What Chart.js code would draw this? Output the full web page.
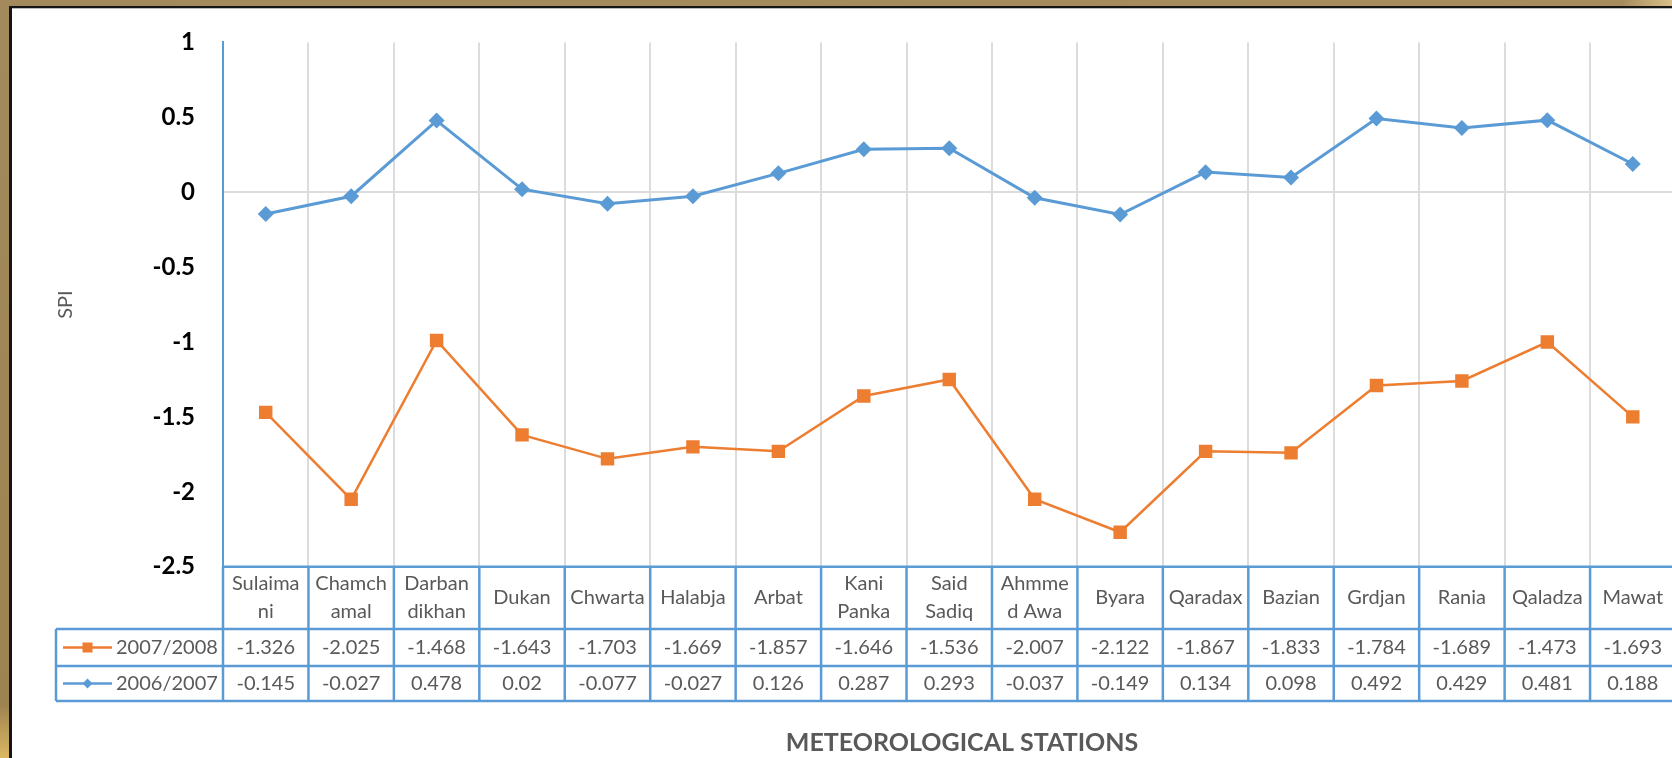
<!DOCTYPE html>
<html><head><meta charset="utf-8">
<script src="https://cdn.jsdelivr.net/npm/chart.js@4.4.1/dist/chart.umd.min.js"></script>
<style>
html,body{margin:0;padding:0;overflow:hidden;background:#fff;width:1672px;height:758px}
#wrap{position:absolute;left:0;top:0;width:1700px;height:758px}
.fr{position:absolute;z-index:2}
</style></head><body>
<div id="wrap"><canvas id="c" width="1700" height="758"></canvas></div>
<div class="fr" style="left:0;top:0;width:1672px;height:6px;background:linear-gradient(90deg,#a38a5c 0,#a68c5d 97%,#d9c08a 100%)"></div>
<div class="fr" style="left:0;top:6px;width:1672px;height:2px;background:#151515"></div>
<div class="fr" style="left:0;top:8px;width:1672px;height:1px;background:#bbb"></div>
<div class="fr" style="left:0;top:0;width:9px;height:758px;background:linear-gradient(180deg,#a38a5c 0,#9e8352 93%,#dcb862 100%)"></div>
<div class="fr" style="left:9px;top:6px;width:3px;height:752px;background:#151515"></div>
<script>
const categories = [["Sulaima","ni"],["Chamch","amal"],["Darban","dikhan"],["Dukan"],["Chwarta"],["Halabja"],["Arbat"],["Kani","Panka"],["Said","Sadiq"],["Ahmme","d Awa"],["Byara"],["Qaradax"],["Bazian"],["Grdjan"],["Rania"],["Qaladza"],["Mawat"]];
const seriesNames = ["2007/2008", "2006/2007"];
const plotted2007_2008 = [-1.47,-2.05,-0.99,-1.62,-1.78,-1.70,-1.73,-1.36,-1.25,-2.05,-2.27,-1.73,-1.74,-1.29,-1.26,-1.00,-1.50];
const plotted2006_2007 = [-0.145,-0.027,0.478,0.02,-0.077,-0.027,0.126,0.287,0.293,-0.037,-0.149,0.134,0.098,0.492,0.429,0.481,0.188];
const table2007_2008 = ["-1.326","-2.025","-1.468","-1.643","-1.703","-1.669","-1.857","-1.646","-1.536","-2.007","-2.122","-1.867","-1.833","-1.784","-1.689","-1.473","-1.693"];
const table2006_2007 = ["-0.145","-0.027","0.478","0.02","-0.077","-0.027","0.126","0.287","0.293","-0.037","-0.149","0.134","0.098","0.492","0.429","0.481","0.188"];
const yTicks = [1, 0.5, 0, -0.5, -1, -1.5, -2, -2.5];
const yTitle = "SPI";
const xTitle = "METEOROLOGICAL STATIONS";

const ORANGE = '#ed7d31', BLUE = '#5b9bd5', TXT = '#595959';

const tablePlugin = {
  id: 'dataTable',
  afterDraw(chart) {
    const ctx = chart.ctx, a = chart.chartArea, x = chart.scales.x;
    const n = categories.length;
    const w = a.width / n;
    const top = a.bottom, hBot = 629, r1 = 666, r2 = 701, legL = 56;
    ctx.save();
    ctx.strokeStyle = BLUE; ctx.lineWidth = 2.5;
    const ln = (x1, y1, x2, y2) => { ctx.beginPath(); ctx.moveTo(x1, y1); ctx.lineTo(x2, y2); ctx.stroke(); };
    ln(a.left, top, a.right, top);
    ln(legL, hBot, a.right, hBot);
    ln(legL, r1, a.right, r1);
    ln(legL, r2, a.right, r2);
    ln(legL, hBot, legL, r2);
    for (let i = 0; i <= n; i++) {
      const xb = (i < n ? x.getPixelForValue(i) - w / 2 : x.getPixelForValue(n - 1) + w / 2);
      ln(xb, top, xb, r2);
    }
    ctx.fillStyle = TXT;
    ctx.font = '20px Lato';
    ctx.textAlign = 'center'; ctx.textBaseline = 'middle';
    const hMid = (top + hBot) / 2;
    for (let i = 0; i < n; i++) {
      const cx = x.getPixelForValue(i);
      const lines = categories[i];
      const lh = 28;
      lines.forEach((t, k) => {
        ctx.fillText(t, cx, hMid + (k - (lines.length - 1) / 2) * lh);
      });
      ctx.fillText(table2007_2008[i], cx, (hBot + r1) / 2);
      ctx.fillText(table2006_2007[i], cx, (r1 + r2) / 2);
    }
    // legend keys
    const keyL = 63, keyR = 112, keyC = (keyL + keyR) / 2;
    const y1 = (hBot + r1) / 2, y2 = (r1 + r2) / 2;
    ctx.lineWidth = 2.5;
    ctx.strokeStyle = ORANGE; ln(keyL, y1, keyR, y1);
    ctx.fillStyle = ORANGE; ctx.fillRect(keyC - 5, y1 - 5, 10, 10);
    ctx.strokeStyle = BLUE; ln(keyL, y2, keyR, y2);
    ctx.fillStyle = BLUE; ctx.beginPath();
    ctx.moveTo(keyC, y2 - 5); ctx.lineTo(keyC + 5, y2); ctx.lineTo(keyC, y2 + 5); ctx.lineTo(keyC - 5, y2); ctx.closePath(); ctx.fill();
    ctx.fillStyle = TXT; ctx.textAlign = 'left';
    ctx.fillText(seriesNames[0], 116, y1);
    ctx.fillText(seriesNames[1], 116, y2);
    // x title
    ctx.font = 'bold 25px Lato';
    ctx.textAlign = 'center';
    ctx.fillText(xTitle, 962, 743);
    ctx.restore();
  }
};

new Chart(document.getElementById('c'), {
  type: 'line',
  data: {
    labels: categories,
    datasets: [
      { label: seriesNames[0], data: plotted2007_2008, borderColor: ORANGE, backgroundColor: ORANGE,
        borderWidth: 2.5, pointStyle: 'rect', pointRadius: 9.5, pointBorderWidth: 0, tension: 0 },
      { label: seriesNames[1], data: plotted2006_2007, borderColor: BLUE, backgroundColor: BLUE,
        borderWidth: 3, pointStyle: 'rectRot', pointRadius: 8, pointBorderWidth: 0, tension: 0 }
    ]
  },
  options: {
    responsive: false, animation: false,
    events: [],
    layout: { padding: { left: 0, top: 40, right: 24.5, bottom: 0 } },
    plugins: { legend: { display: false }, tooltip: { enabled: false } },
    scales: {
      x: {
        type: 'category',
        offset: true,
        ticks: { display: false },
        grid: { offset: true, color: '#dcdcdc', lineWidth: 2, drawTicks: false },
        border: { display: false },
        afterFit(s) { s.height = 758 - 566.7; }
      },
      y: {
        min: -2.5, max: 1,
        afterBuildTicks(s) { s.ticks = yTicks.map(v => ({ value: v })); },
        ticks: { color: '#000', font: { family: 'Lato', weight: 'bold', size: 24 }, padding: 28,
                 callback: v => String(v) },
        grid: { drawTicks: false, lineWidth: 2, color: c => (c.tick && c.tick.value === 0) ? '#dcdcdc' : 'rgba(0,0,0,0)' },
        border: { color: BLUE, width: 2 },
        title: { display: true, text: yTitle, color: TXT, font: { family: 'Lato', size: 20 }, padding: { top: 54, bottom: 0 } },
        afterFit(s) { s.width = 223; }
      }
    }
  },
  plugins: [tablePlugin]
});
</script>
</body></html>
